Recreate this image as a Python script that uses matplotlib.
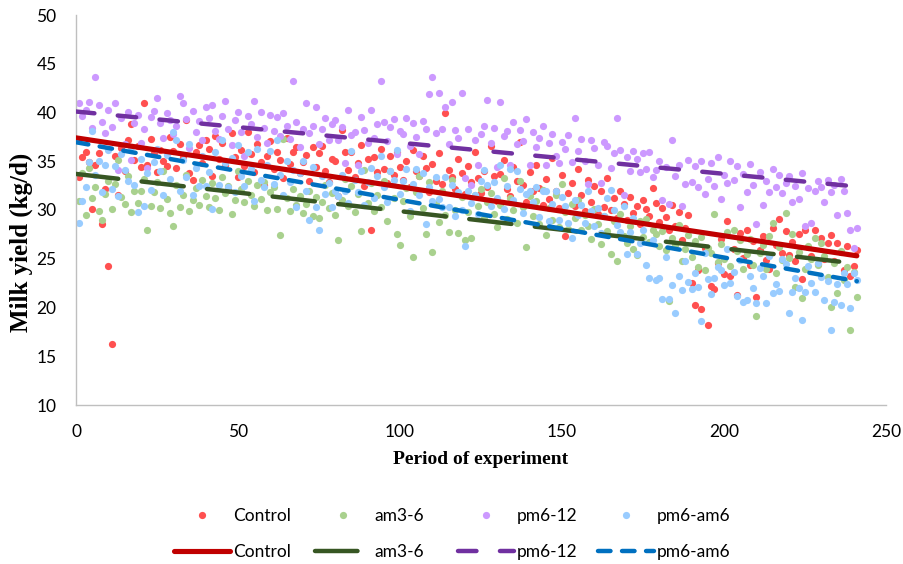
import numpy as np
import matplotlib
matplotlib.use("Agg")
import matplotlib.pyplot as plt
from matplotlib.lines import Line2D

plt.rcParams['lines.scale_dashes'] = False

# ---------------- data ----------------
series_names = ["Control", "am3-6", "pm6-12", "pm6-am6"]
days = np.arange(1, 242)

control = [
    33.4, 35.4, 36.0, 34.9, 30.1, 34.6, 35.8, 28.6, 32.2, 24.3,
    16.3, 35.5, 31.5, 36.4, 34.0, 37.2, 38.8, 35.1, 36.6, 34.4,
    41.0, 34.6, 37.3, 35.8, 33.9, 36.2, 35.0, 34.5, 37.5, 36.1,
    34.3, 36.8, 35.4, 39.2, 33.8, 33.1, 35.9, 36.7, 34.8, 37.2,
    36.3, 33.5, 37.6, 35.2, 36.9, 34.6, 32.1, 37.9, 35.4, 33.4,
    36.2, 34.5, 38.0, 35.7, 33.9, 36.8, 34.9, 32.6, 35.5, 37.1,
    34.2, 36.0, 35.1, 33.3, 37.4, 34.7, 35.9, 36.5, 33.8, 34.9,
    35.6, 33.0, 36.5, 34.4, 35.8, 36.6, 34.0, 32.9, 35.2, 35.0,
    31.4, 38.2, 36.0, 34.1, 35.9, 33.4, 34.8, 36.7, 32.5, 35.2,
    28.0, 35.4, 33.9, 36.3, 34.2, 32.8, 35.5, 33.6, 36.0, 34.4,
    33.1, 35.0, 32.4, 36.2, 34.0, 33.5, 35.5, 34.3, 31.8, 34.7,
    33.0, 35.8, 32.7, 40.0, 34.1, 33.4, 32.2, 35.2, 33.8, 31.6,
    34.5, 32.9, 35.9, 33.3, 31.7, 34.0, 32.4, 36.6, 33.5, 30.9,
    33.7, 35.1, 32.2, 31.4, 34.4, 33.0, 37.0, 32.6, 30.8, 33.9,
    31.9, 34.6, 32.3, 30.5, 33.2, 31.1, 35.3, 32.0, 30.2, 33.6,
    27.3, 31.7, 32.8, 30.4, 34.2, 31.5, 29.9, 33.1, 30.8, 32.5,
    29.6, 31.9, 30.3, 33.3, 30.0, 31.2, 29.2, 32.0, 30.6, 29.0,
    31.3, 29.7, 30.4, 28.6, 31.0, 30.1, 29.4, 32.3, 30.7, 28.8,
    30.2, 29.3, 27.9, 30.5, 28.4, 29.8, 26.9, 28.2, 29.5, 22.5,
    20.3, 23.8, 19.8, 26.1, 18.2, 22.2, 21.9, 24.6, 27.0, 23.4,
    28.9, 23.2, 26.0, 21.3, 27.6, 25.1, 28.0, 24.4, 26.8, 21.1,
    25.9, 27.3, 24.9, 24.0, 28.2, 26.4, 29.1, 25.6, 27.8, 25.4,
    26.7, 24.8, 27.5, 22.9, 28.0, 26.2, 25.3, 28.0, 24.5, 27.1,
    25.0, 26.6, 27.4, 24.8, 26.6, 25.7, 23.8, 26.3, 23.2, 24.3,
    25.9,
]

am3_6 = [
    30.9, 33.8, 29.5, 34.3, 31.2, 32.4, 29.9, 29.0, 31.6, 33.0,
    30.1, 32.7, 35.1, 31.3, 30.6, 33.5, 29.8, 32.0, 30.7, 31.9,
    33.2, 28.0, 30.4, 31.8, 32.9, 30.2, 34.0, 31.1, 29.7, 28.4,
    32.6, 30.3, 31.5, 33.6, 29.9, 31.0, 32.3, 30.5, 33.1, 31.4,
    30.3, 32.8, 31.2, 30.0, 33.4, 31.7, 32.5, 29.6, 31.0, 34.0,
    32.2, 30.8, 33.0, 31.5, 30.4, 32.6, 31.1, 32.9, 30.0, 31.8,
    32.4, 30.1, 27.4, 37.3, 31.2, 29.9, 32.2, 30.5, 31.4, 29.7,
    30.6, 32.0, 29.4, 31.3, 29.2, 30.8, 32.6, 30.2, 31.7, 29.5,
    26.9, 31.0, 33.2, 30.4, 32.5, 29.8, 31.6, 27.8, 34.1, 30.7,
    32.8, 29.9, 31.5, 30.3, 33.0, 28.9, 34.0, 31.2, 27.5, 26.4,
    30.9, 32.3, 29.4, 25.2, 31.8, 33.5, 30.2, 27.5, 32.9, 25.7,
    30.6, 28.8, 31.9, 29.5, 27.7, 33.1, 30.0, 27.6, 31.3, 26.9,
    29.8, 27.1, 31.5, 30.4, 32.2, 29.2, 30.8, 31.7, 29.6, 28.3,
    30.5, 33.3, 29.1, 31.2, 30.0, 28.7, 33.0, 30.3, 26.2, 31.4,
    29.4, 30.9, 28.6, 32.1, 27.4, 30.2, 29.0, 31.5, 28.3, 32.7,
    29.8, 28.1, 30.6, 29.2, 31.0, 27.9, 29.5, 28.4, 27.0, 30.1,
    28.6, 26.5, 29.4, 27.8, 25.5, 28.9, 24.8, 29.6, 27.3, 26.6,
    28.4, 26.0, 25.4, 28.9, 27.2, 29.1, 26.7, 28.0, 27.5, 26.3,
    27.8, 25.9, 20.7, 27.1, 26.4, 28.5, 24.8, 26.0, 27.4, 25.2,
    26.8, 24.2, 27.2, 23.8, 26.1, 25.6, 29.6, 24.7, 26.5, 25.0,
    27.7, 24.3, 28.0, 25.8, 26.9, 23.9, 25.5, 27.0, 24.4, 19.1,
    25.6, 26.4, 24.0, 27.3, 28.7, 23.5, 26.2, 24.9, 29.7, 25.1,
    27.5, 22.1, 25.7, 21.0, 24.0, 26.3, 25.0, 27.1, 24.4, 26.6,
    25.3, 23.1, 20.1, 24.6, 21.5, 25.8, 22.8, 24.2, 17.7, 23.6,
    21.1,
]

pm6_12 = [
    41.0, 39.6, 40.3, 41.1, 38.4, 43.6, 40.8, 39.0, 37.9, 40.3,
    38.5, 41.0, 34.1, 39.4, 36.8, 40.1, 35.1, 38.9, 39.7, 36.9,
    38.3, 34.3, 39.5, 40.2, 41.5, 38.9, 37.4, 40.0, 39.2, 37.8,
    38.6, 41.7, 41.0, 39.3, 36.4, 40.2, 38.0, 39.1, 37.2, 40.6,
    39.4, 40.8, 38.1, 37.3, 39.6, 41.2, 38.3, 36.7, 39.2, 40.1,
    38.0, 35.5, 39.6, 38.8, 41.2, 37.5, 40.1, 38.4, 36.9, 39.7,
    38.1, 39.5, 37.6, 40.0, 38.6, 37.3, 43.2, 39.0, 36.5, 38.3,
    41.0, 37.9, 38.6, 40.6, 36.8, 38.3, 39.4, 37.2, 38.8, 39.2,
    37.2, 38.5, 34.8, 40.3, 37.7, 38.0, 34.6, 39.5, 38.2, 36.9,
    40.3, 37.4, 38.8, 43.2, 39.0, 37.1, 38.5, 39.3, 35.7, 38.1,
    37.8, 39.4, 36.6, 38.9, 37.5, 35.7, 39.1, 38.3, 41.9, 43.6,
    37.9, 42.0, 38.3, 40.6, 36.8, 41.1, 38.2, 37.4, 42.0, 33.3,
    38.3, 32.6, 37.2, 34.6, 37.8, 38.6, 41.3, 36.9, 38.4, 34.4,
    41.1, 37.6, 38.1, 34.6, 39.0, 36.8, 38.2, 37.1, 39.3, 34.6,
    38.0, 36.5, 37.4, 38.6, 34.6, 36.9, 37.8, 35.5, 34.8, 37.0,
    36.3, 37.7, 34.9, 39.4, 36.1, 37.3, 35.0, 32.7, 37.2, 36.4,
    34.6, 32.8, 37.0, 36.6, 34.3, 35.8, 39.4, 36.2, 31.5, 35.4,
    34.0, 36.1, 35.2, 33.9, 35.8, 34.2, 36.0, 33.4, 34.1, 35.0,
    31.0, 34.4, 30.6, 37.2, 33.5, 34.6, 30.4, 32.7, 35.1, 32.9,
    34.5, 32.4, 35.0, 31.6, 33.2, 34.8, 32.5, 35.4, 31.1, 33.6,
    32.8, 35.0, 33.1, 34.5, 30.3, 33.7, 31.8, 34.7, 32.6, 28.6,
    33.9, 30.5, 33.0, 31.8, 34.2, 32.4, 33.6, 31.7, 32.8, 33.5,
    30.8, 32.5, 31.1, 33.8, 28.4, 32.3, 28.7, 31.9, 33.0, 32.4,
    30.8, 33.1, 31.8, 32.6, 29.5, 33.2, 32.0, 29.7, 28.0, 26.1,
    28.2,
]

pm6_am6 = [
    28.7, 30.9, 32.4, 34.9, 38.1, 33.6, 35.0, 31.8, 34.6, 36.2,
    32.2, 34.5, 31.4, 35.7, 34.1, 33.0, 36.5, 32.6, 29.8, 35.2,
    30.4, 33.8, 32.1, 34.9, 36.3, 34.0, 31.5, 35.6, 33.2, 38.0,
    37.2, 31.9, 35.1, 33.4, 36.8, 31.5, 34.3, 32.5, 35.5, 32.5,
    33.9, 30.1, 36.0, 32.6, 37.2, 34.8, 32.4, 35.3, 31.8, 36.7,
    33.5, 32.5, 35.9, 34.2, 30.9, 36.3, 33.1, 32.4, 34.6, 36.1,
    32.7, 37.2, 33.6, 31.5, 35.0, 32.9, 34.1, 30.3, 33.8, 35.0,
    32.0, 29.0, 34.4, 30.3, 28.0, 33.5, 31.6, 32.8, 30.3, 32.0,
    31.4, 33.6, 32.0, 30.7, 36.1, 33.1, 31.8, 34.0, 30.5, 32.9,
    34.3, 31.2, 33.5, 35.5, 32.4, 30.8, 34.0, 33.1, 36.2, 31.6,
    33.0, 34.2, 29.9, 32.7, 34.2, 31.5, 33.8, 28.6, 32.4, 30.9,
    33.4, 31.1, 30.3, 33.4, 30.3, 32.6, 29.4, 31.8, 30.0, 26.3,
    32.0, 30.7, 31.5, 29.6, 33.0, 34.1, 32.6, 30.4, 32.9, 31.2,
    34.6, 30.1, 32.5, 34.2, 31.0, 34.0, 32.2, 29.7, 31.6, 32.0,
    30.8, 32.4, 29.3, 31.9, 32.0, 28.9, 30.6, 32.0, 29.0, 31.3,
    30.4, 28.7, 27.1, 31.0, 29.5, 30.5, 28.7, 32.0, 29.9, 28.4,
    30.2, 27.6, 29.4, 31.2, 32.1, 30.0, 28.5, 27.7, 30.4, 25.5,
    27.7, 29.2, 25.5, 26.6, 28.0, 24.4, 23.0, 26.9, 22.8, 23.0,
    20.9, 25.2, 20.9, 22.3, 19.4, 23.2, 21.8, 24.8, 22.6, 21.9,
    23.5, 22.1, 18.6, 25.6, 22.9, 21.4, 23.0, 24.2, 23.8, 22.3,
    26.0, 22.5, 23.6, 21.2, 24.9, 20.6, 20.8, 23.2, 22.0, 20.5,
    24.1, 23.2, 20.5, 25.3, 21.5, 22.4, 21.7, 25.0, 24.5, 19.4,
    21.6, 23.0, 22.0, 18.7, 21.6, 24.3, 22.5, 21.6, 24.6, 23.1,
    20.8, 22.7, 17.7, 20.6, 22.4, 20.3, 23.5, 22.4, 20.0, 23.5,
    22.8,
]

# linear trend lines (values read at start and end day)
trend_x = [0, 241]
trend_control = [37.4, 25.3]
trend_am3_6 = [33.7, 24.5]
trend_pm6_12 = [40.1, 32.4]
trend_pm6_am6 = [36.95, 22.7]

x_ticks = [0, 50, 100, 150, 200, 250]
y_ticks = [10, 15, 20, 25, 30, 35, 40, 45, 50]

# ---------------- styling ----------------
dot_colors = ["#FF5050", "#A9D18E", "#CC99FF", "#99CCFF"]
line_colors = ["#C00000", "#375623", "#7030A0", "#0070C0"]
line_widths = [3.7, 3.2, 3.2, 3.2]
line_dashes = [None, (30.6, 16.9), (13.3, 16.9), (9.0, 8.3)]

W, H = 904, 564
fig = plt.figure(figsize=(W / 100, H / 100), dpi=100)
ax = fig.add_axes([76 / W, 1 - 405 / H, 810 / W, 390 / H])

series = [control, am3_6, pm6_12, pm6_am6]
trends = [trend_control, trend_am3_6, trend_pm6_12, trend_pm6_am6]

for vals, c in zip(series, dot_colors):
    ax.scatter(days, vals, s=27, color=c, linewidths=0, zorder=2)

for tr, c, lw, ds in zip(trends, line_colors, line_widths, line_dashes):
    ln, = ax.plot(trend_x, tr, color=c, lw=lw, zorder=3,
                  solid_capstyle='round', dash_capstyle='round')
    if ds is not None:
        ln.set_dashes(ds)

ax.set_xlim(0, 250)
ax.set_ylim(10, 50)
ax.set_xticks(x_ticks)
ax.set_yticks(y_ticks)

tick_font = ['Lato', 'DejaVu Sans']
ax.tick_params(length=0, pad=14, labelsize=12.5)
for lab in ax.get_xticklabels() + ax.get_yticklabels():
    lab.set_family(tick_font)

for s in ['top', 'right']:
    ax.spines[s].set_visible(False)
for s in ['left', 'bottom']:
    ax.spines[s].set_color('#BFBFBF')
    ax.spines[s].set_linewidth(1.0)

ax.set_xlabel('Period of experiment', fontsize=14, fontweight='bold',
              family=['Liberation Serif', 'DejaVu Serif'])
ax.xaxis.set_label_coords(0.499, -0.118)
ax.set_ylabel('Milk yield (kg/d)', fontsize=18, fontweight='bold',
              family=['Liberation Serif', 'DejaVu Serif'])
ax.yaxis.set_label_coords(-0.053, 0.418)

# ---------------- legends (two rows) ----------------
fs_leg = 12.5
em = fs_leg * 100 / 72
text_x = [233, 374, 517, 657]
row_y = [516, 552]

for i, name in enumerate(series_names):
    # row 1: markers
    h = Line2D([], [], linestyle='none', marker='o', markersize=5.2,
               markerfacecolor=dot_colors[i], markeredgewidth=0)
    L, p = 2.0, 0.8
    x0 = text_x[i] - (L + p) * em
    fig.legend([h], [name], loc='center left',
               bbox_to_anchor=(x0 / W, 1 - row_y[0] / H),
               frameon=False, handlelength=L, handletextpad=p,
               borderpad=0, borderaxespad=0,
               prop={'family': tick_font, 'size': fs_leg})
    # row 2: trend lines
    h2 = Line2D([], [], color=line_colors[i], lw=line_widths[i],
                solid_capstyle='round', dash_capstyle='round')
    if line_dashes[i] is not None:
        h2.set_dashes(line_dashes[i])
    L2, p2 = 3.2, 0.2
    x1 = text_x[i] - (L2 + p2) * em
    fig.legend([h2], [name], loc='center left',
               bbox_to_anchor=(x1 / W, 1 - row_y[1] / H),
               frameon=False, handlelength=L2, handletextpad=p2,
               borderpad=0, borderaxespad=0,
               prop={'family': tick_font, 'size': fs_leg})

fig.savefig('out.png', dpi=100)
